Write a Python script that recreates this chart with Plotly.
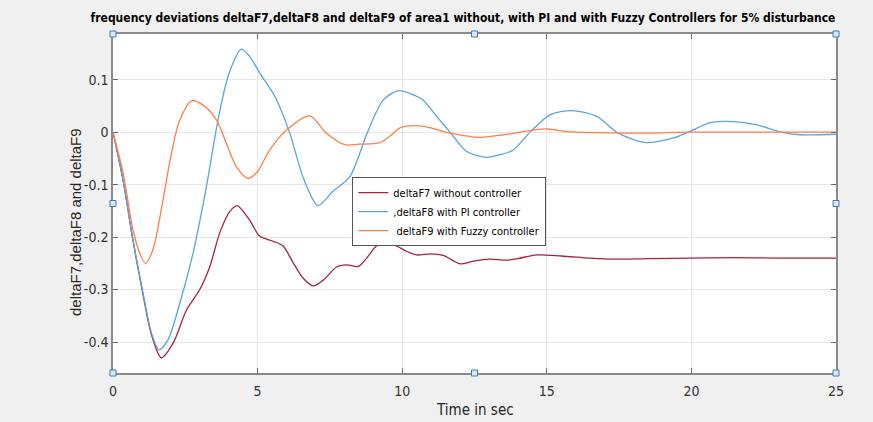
import plotly.graph_objects as go

# ---- data ----
t_f7 = [0, 0.35, 0.69, 1.04, 1.33, 1.67, 2.08, 2.54, 3.0, 3.35, 3.69, 4.04, 4.29, 4.73, 5.07, 5.54,
        5.88, 6.23, 6.57, 6.92, 7.27, 7.73, 8.08, 8.48, 8.77, 9.11, 9.46, 9.81, 10.15, 10.5, 10.96,
        11.42, 12.0, 12.46, 13.03, 13.6, 14.0, 14.65, 15.5, 16.5, 17.3, 18.5, 20, 21.5, 23, 25]
f7 = [0, -0.092, -0.206, -0.31, -0.386, -0.43, -0.402, -0.339, -0.30, -0.256, -0.192, -0.151, -0.14,
      -0.168, -0.198, -0.208, -0.217, -0.249, -0.278, -0.293, -0.282, -0.257, -0.253, -0.256, -0.240,
      -0.217, -0.210, -0.217, -0.227, -0.234, -0.232, -0.235, -0.251, -0.246, -0.242, -0.244, -0.241,
      -0.234, -0.236, -0.240, -0.242, -0.241, -0.240, -0.239, -0.240, -0.240]

t_f8 = [0, 0.35, 0.69, 1.04, 1.33, 1.59, 1.9, 2.31, 2.77, 3.23, 3.63, 4.0, 4.44, 4.73, 5.07, 5.6,
        6.1, 6.6, 7.09, 7.6, 8.19, 8.8, 9.34, 9.86, 10.3, 10.7, 11.19, 11.65, 12.23, 12.9, 13.38,
        13.84, 14.42, 15.11, 15.86, 16.73, 17.47, 18.46, 19.38, 19.9, 20.65, 21.45, 22.26, 23.1,
        23.76, 25]
f8 = [0, -0.092, -0.206, -0.307, -0.383, -0.415, -0.396, -0.326, -0.23, -0.104, 0.023, 0.11, 0.158,
      0.144, 0.113, 0.068, 0.0, -0.09, -0.14, -0.113, -0.085, 0.0, 0.061, 0.079, 0.073, 0.062, 0.03,
      0.0, -0.037, -0.048, -0.043, -0.034, 0.0, 0.033, 0.041, 0.03, -0.002, -0.02, -0.011, 0.0,
      0.018, 0.02, 0.014, 0.0, -0.005, -0.004]

t_f9 = [0, 0.35, 0.69, 0.92, 1.12, 1.38, 1.73, 2.02, 2.31, 2.73, 3.15, 3.58, 4.27, 4.67, 5.0, 5.42,
        6.0, 6.8, 7.38, 8.02, 8.5, 9.23, 9.57, 9.92, 10.27, 10.84, 11.65, 12.7, 13.5, 14.42, 15.05,
        15.69, 16.84, 18.46, 19.8, 22, 25]
f9 = [0, -0.078, -0.186, -0.23, -0.25, -0.224, -0.129, -0.04, 0.023, 0.06, 0.05, 0.023, -0.066,
      -0.088, -0.075, -0.034, 0.004, 0.031, -0.002, -0.024, -0.023, -0.02, -0.008, 0.008, 0.012,
      0.01, -0.002, -0.01, -0.005, 0.003, 0.006, 0.001, -0.001, -0.002, 0.0, 0.0, 0.0]

names = ["deltaF7 without controller", ",deltaF8 with PI controller", " deltaF9 with Fuzzy controller"]
colors = ["#A8213F", "#5AA5DD", "#FF7F4A"]

x_ticks = [0, 5, 10, 15, 20, 25]
y_ticks = [-0.4, -0.3, -0.2, -0.1, 0, 0.1]
y_ticktext = ["-0.4", "-0.3", "-0.2", "-0.1", "0", "0.1"]

title_text = "frequency deviations deltaF7,deltaF8 and deltaF9 of area1 without, with PI and with Fuzzy Controllers for 5% disturbance"
x_label = "Time in sec"
y_label = "deltaF7,deltaF8 and deltaF9"

NARROW = "DejaVu Sans Condensed, Liberation Sans Narrow, Arial Narrow, Liberation Sans, Arial, sans-serif"
REG = "Liberation Sans, Arial, sans-serif"

fig = go.Figure()
for tt, vv, nm, c in zip([t_f7, t_f8, t_f9], [f7, f8, f9], names, colors):
    fig.add_trace(go.Scatter(x=tt, y=vv, name=nm, mode="lines",
                             line=dict(color=c, width=1.3, shape="spline", smoothing=0.8)))

axis_common = dict(showgrid=True, gridcolor="#e6e6e6", gridwidth=1, zeroline=False,
                   showline=True, linecolor="#8a8a8a", linewidth=1.5, mirror="ticks",
                   ticks="inside", ticklen=5, tickcolor="#6a6a6a",
                   tickfont=dict(family=NARROW, size=14, color="#333333"))

fig.update_layout(
    width=873, height=422,
    paper_bgcolor="#F0F0F0", plot_bgcolor="#FFFFFF",
    margin=dict(l=113, r=37, t=34, b=49),
    title=dict(text="<b>" + title_text + "</b>",
               font=dict(family=NARROW, size=12, color="#000000"),
               x=463 / 873, xanchor="center", xref="container",
               y=1 - 18 / 422, yanchor="middle", yref="container"),
    xaxis=dict(range=[0, 25], tickvals=x_ticks, ticklabelstandoff=4, **axis_common),
    yaxis=dict(range=[-0.459, 0.187], tickvals=y_ticks, ticktext=y_ticktext, **axis_common),
    legend=dict(x=0.331, y=0.578, xanchor="left", yanchor="top",
                bgcolor="#FFFFFF", bordercolor="#555555", borderwidth=1,
                font=dict(family=NARROW, size=11, color="#000000"),
                tracegroupgap=0, itemwidth=30),
    showlegend=True,
)

fig.add_annotation(text=x_label, xref="paper", yref="paper", x=(475 - 113) / 723, y=(373 - 410) / 339,
                   xanchor="center", yanchor="middle", showarrow=False,
                   font=dict(family=NARROW, size=15, color="#262626"))
fig.add_annotation(text=y_label, xref="paper", yref="paper", x=(75 - 113) / 723, y=(373 - 222) / 339,
                   xanchor="center", yanchor="middle", showarrow=False, textangle=-90,
                   font=dict(family=REG, size=15, color="#262626"))

# MATLAB selection handles around the axes
handles = [(0, 0), (0.5, 0), (1, 0), (0, 0.5), (1, 0.5), (0, 1), (0.5, 1), (1, 1)]
for hx, hy in handles:
    fig.add_shape(type="rect", xref="paper", yref="paper", xsizemode="pixel", ysizemode="pixel",
                  xanchor=hx, yanchor=hy, x0=-3, x1=3, y0=-3, y1=3,
                  line=dict(color="#3A7DC0", width=1), fillcolor="#DCE8F5", layer="above")

fig.write_html("out.html", config={"displayModeBar": False},
               post_script="document.body.style.margin='0';document.body.style.background='#F0F0F0';")
